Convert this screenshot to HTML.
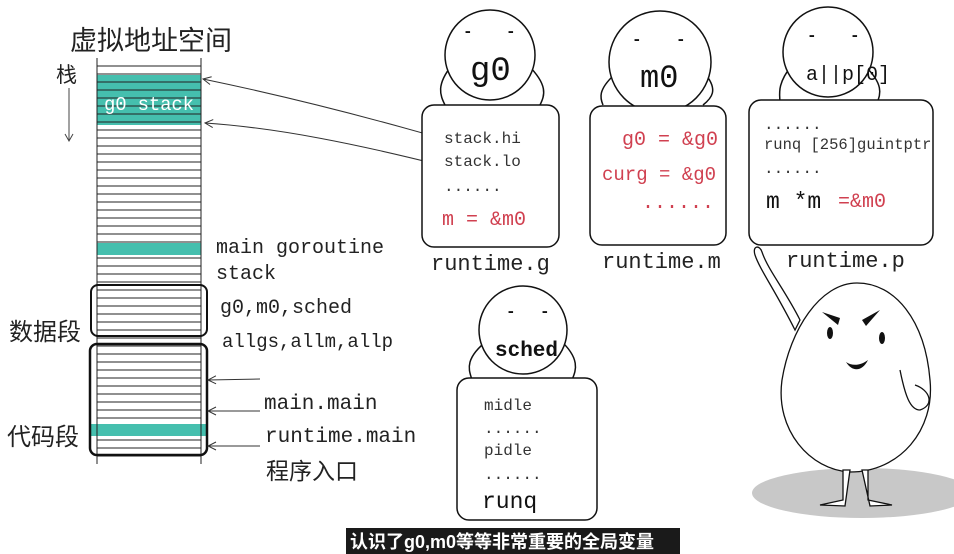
<!DOCTYPE html>
<html><head><meta charset="utf-8"><style>
html,body{margin:0;padding:0;background:#fff;}
svg{display:block}
text{font-family:"Liberation Mono","Noto Sans CJK SC",monospace;}
.cj{font-family:"Liberation Sans","Noto Sans CJK SC",sans-serif;}
</style></head><body>
<svg width="954" height="554" viewBox="0 0 954 554" xmlns="http://www.w3.org/2000/svg">
<defs>
<marker id="ah" markerWidth="10" markerHeight="10" refX="9" refY="5" orient="auto" markerUnits="userSpaceOnUse"><path d="M1,1 L9,5 L1,9" fill="none" stroke="#333" stroke-width="1"/></marker>
</defs>
<rect width="954" height="554" fill="#fff"/>
<text x="70" y="50" class="cj" font-size="27" fill="#222">虚拟地址空间</text>
<text x="56" y="82" class="cj" font-size="21" fill="#222">栈</text>
<line x1="69" y1="88" x2="69" y2="140" stroke="#444"/>
<path d="M65,134 L69,141 L73,134" fill="none" stroke="#444"/>
<rect x="97" y="75" width="104" height="50" fill="#45bfae"/>
<rect x="97" y="243" width="104" height="12" fill="#45bfae"/>
<rect x="90" y="424" width="117" height="12" fill="#45bfae"/>
<g stroke="#222" stroke-width="1">
<line x1="97" y1="58" x2="97" y2="464"/>
<line x1="201" y1="58" x2="201" y2="464"/>
<path d="M97,66H201M97,74H201M97,82H201M97,90H201M97,98H201M97,106H201M97,114H201M97,122H201M97,130H201M97,138H201M97,146H201M97,154H201M97,162H201M97,170H201M97,178H201M97,186H201M97,194H201M97,202H201M97,210H201M97,218H201M97,226H201M97,234H201M97,242H201M97,258H201M97,266H201M97,274H201M97,282H201M97,290H201M97,298H201M97,306H201M97,314H201M97,322H201M97,330H201M97,338H201M97,346H201M97,354H201M97,362H201M97,370H201M97,378H201M97,386H201M97,394H201M97,402H201M97,410H201M97,418H201M97,440H201M97,448H201M97,456H201"/>
</g>
<text x="104" y="110" font-size="19" fill="#fff" font-family="Liberation Sans" textLength="90">g0 stack</text>
<rect x="91" y="285" width="116" height="51" rx="7" fill="none" stroke="#111" stroke-width="2"/>
<rect x="90" y="344" width="117" height="111" rx="7" fill="none" stroke="#111" stroke-width="2.5"/>
<text x="9" y="340" class="cj" font-size="24" fill="#222">数据段</text>
<text x="7" y="445" class="cj" font-size="24" fill="#222">代码段</text>
<g font-size="20" fill="#222">
<text x="216" y="253">main goroutine</text>
<text x="216" y="279">stack</text>
<text x="220" y="313">g0,m0,sched</text>
<text x="222" y="347" font-size="19">allgs,allm,allp</text>
<text x="264" y="409" font-size="21">main.main</text>
<text x="265" y="442" font-size="21">runtime.main</text>
</g>
<text x="266" y="479" class="cj" font-size="23" fill="#222">程序入口</text>
<g stroke="#333" fill="none" stroke-width="1">
<line x1="260" y1="379" x2="208" y2="380" marker-end="url(#ah)"/>
<line x1="260" y1="411" x2="208" y2="411" marker-end="url(#ah)"/>
<line x1="260" y1="446" x2="208" y2="446" marker-end="url(#ah)"/>
<path d="M440,138 C360,115 280,95 203,79" marker-end="url(#ah)"/>
<path d="M440,165 C360,145 280,128 205,123" marker-end="url(#ah)"/>
</g>
<g fill="#fff" stroke="#111" stroke-width="1.5">
<path d="M452,65 C436,85 440,95 445,105" fill="none"/><path d="M528,65 C548,85 545,95 540,105" fill="none"/>
<circle cx="490" cy="55" r="45"/>
<path d="M614,75 C598,90 600,98 603,105" fill="none"/><path d="M706,75 C718,90 712,98 703,105" fill="none"/>
<circle cx="660" cy="62" r="51"/>
<path d="M792,65 C776,85 780,95 780,103" fill="none"/><path d="M864,65 C885,85 880,95 877,103" fill="none"/>
<circle cx="828" cy="52" r="45"/>
<path d="M488,340 C462,360 470,372 472,380" fill="none"/><path d="M560,340 C582,360 575,372 572,380" fill="none"/>
<circle cx="523" cy="330" r="44"/>
<rect x="422" y="105" width="137" height="142" rx="12"/>
<rect x="590" y="106" width="136" height="139" rx="12"/>
<rect x="749" y="100" width="184" height="145" rx="12"/>
<rect x="457" y="378" width="140" height="142" rx="12"/>
</g>
<g font-size="16" fill="#111" font-family="Liberation Sans" font-weight="bold">
<text x="463" y="36">-</text><text x="506" y="36">-</text>
<text x="632" y="44">-</text><text x="676" y="44">-</text>
<text x="807" y="40">-</text><text x="850" y="40">-</text>
<text x="506" y="316">-</text><text x="540" y="316">-</text>
</g>
<text x="470" y="80" font-size="34" fill="#111" font-family="Liberation Sans">g0</text>
<text x="640" y="87" font-size="32" fill="#111" font-family="Liberation Sans">m0</text>
<text x="806" y="80" font-size="20" fill="#111" font-family="Liberation Sans">a||p[0]</text>
<text x="495" y="356" font-size="21" fill="#111" font-family="Liberation Sans" font-weight="bold">sched</text>
<g font-size="16" fill="#333">
<text x="444" y="143">stack.hi</text>
<text x="444" y="166">stack.lo</text>
<text x="444" y="191">......</text>
<text x="764" y="129">......</text>
<text x="764" y="149" font-size="15.5">runq [256]guintptr</text>
<text x="764" y="173">......</text>
<text x="484" y="410">midle</text>
<text x="484" y="433">......</text>
<text x="484" y="455">pidle</text>
<text x="484" y="479">......</text>
</g>
<g font-size="20" fill="#d04050">
<text x="442" y="225">m = &amp;m0</text>
<text x="622" y="145">g0 = &amp;g0</text>
<text x="602" y="180" font-size="19">curg = &amp;g0</text>
<text x="642" y="208">......</text>
<text x="838" y="207">=&amp;m0</text>
</g>
<text x="766" y="208" font-size="23" fill="#111">m *m</text>
<text x="482" y="508" font-size="23" fill="#111">runq</text>
<g font-size="22" fill="#222">
<text x="431" y="270">runtime.g</text>
<text x="602" y="268">runtime.m</text>
<text x="786" y="267">runtime.p</text>
</g>
<ellipse cx="862" cy="493" rx="110" ry="25" fill="#c8c8c8"/>
<g fill="#fff" stroke="#111" stroke-width="1.3">
<path d="M795,330 C775,290 760,270 755,255 C752,245 760,245 762,252 C768,270 785,290 800,320Z"/>
<path d="M857,283 C820,283 790,330 782,380 C775,430 810,470 850,472 C900,472 935,430 930,380 C925,320 895,283 857,283Z"/>
<path d="M843,470 L843,500 L820,505 L845,506 L850,470Z"/>
<path d="M868,470 L868,500 L892,505 L870,506 L862,470Z"/>
<path d="M900,370 C905,395 910,410 920,410 C935,405 930,390 915,385"/>
</g>
<g fill="#111">
<path d="M822,312 L840,318 L838,325Z"/><path d="M880,310 L862,320 L866,326Z"/>
<ellipse cx="830" cy="333" rx="3" ry="6"/><ellipse cx="882" cy="338" rx="3" ry="6"/>
<path d="M846,362 C852,372 862,372 868,360 C860,366 852,366 846,362Z"/>
</g>
<rect x="346" y="528" width="334" height="26" fill="#1a1a1a"/>
<text x="350" y="548" class="cj" font-size="18" fill="#fff" font-weight="bold">认识了g0,m0等等非常重要的全局变量</text>
</svg>
</body></html>
